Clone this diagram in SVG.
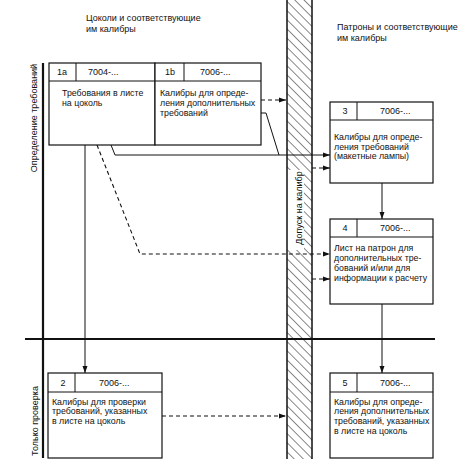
<svg xmlns="http://www.w3.org/2000/svg" width="472" height="474" viewBox="0 0 472 474">
<style>
text{font-family:"Liberation Sans",Arial,sans-serif;font-size:9px;fill:#111}
.b{font-size:8.8px}
.box{fill:#fff;stroke:#111;stroke-width:1.2}
.ln{fill:none;stroke:#111;stroke-width:1}
.sol{fill:none;stroke:#111;stroke-width:1}
.dash{fill:none;stroke:#111;stroke-width:1.1;stroke-dasharray:4,3}
.thick{stroke:#111;stroke-width:2.2;fill:none}
.c{text-anchor:middle}
</style>
<defs>
<marker id="ah" markerWidth="7" markerHeight="6" refX="7" refY="3" orient="auto" markerUnits="userSpaceOnUse">
<path d="M0,0.5 L7,3 L0,5.5 z" fill="#111"/>
</marker>
<pattern id="hatch" patternUnits="userSpaceOnUse" width="6.5" height="6.5" patternTransform="rotate(-45)">
<line x1="0" y1="0" x2="0" y2="6.5" stroke="#111" stroke-width="1"/>
</pattern>
</defs>
<rect width="472" height="474" fill="#fff"/>

<g id="headers">
<text x="86" y="21">Цоколи и соответствующие</text>
<text x="86" y="32">им калибры</text>
<text x="337" y="30">Патроны и соответствующие</text>
<text x="337" y="41">им калибры</text>
</g>

<g id="band">
<rect x="287" y="0" width="25" height="459" fill="url(#hatch)"/>
<rect x="287" y="170" width="17" height="80" fill="#fff"/>
<line x1="287" y1="0" x2="287" y2="459" stroke="#111" stroke-width="1.5"/>
<line x1="312" y1="0" x2="312" y2="459" stroke="#111" stroke-width="1.5"/>
<text transform="translate(299,208) rotate(-90)" class="c" dy="3">Допуск на калибр</text>
</g>

<g id="axes">
<line class="thick" x1="43" y1="63" x2="43" y2="458"/>
<line class="thick" x1="25" y1="339" x2="435" y2="339"/>
<text transform="translate(34,118) rotate(-90)" class="c" dy="3">Определение требований</text>
<text transform="translate(35,421) rotate(-90)" class="c" dy="3">Только проверка</text>
</g>

<g id="connectors">
<line class="dash" x1="261" y1="100" x2="286" y2="100" marker-end="url(#ah)"/>
<polyline class="sol" points="261,113 266,113 279,155"/>
<polyline class="sol" points="111,145 115,155 330,155" marker-end="url(#ah)"/>
<line class="dash" x1="312" y1="168" x2="330" y2="168" marker-end="url(#ah)"/>
<polyline class="dash" points="97,145 140,254 330,254" marker-end="url(#ah)"/>
<line class="dash" x1="312" y1="279" x2="330" y2="279" marker-end="url(#ah)"/>
<line class="sol" x1="85" y1="145" x2="85" y2="373" marker-end="url(#ah)"/>
<line class="sol" x1="382" y1="183" x2="382" y2="219" marker-end="url(#ah)"/>
<line class="sol" x1="382" y1="304" x2="382" y2="373" marker-end="url(#ah)"/>
<line class="dash" x1="162" y1="416" x2="286" y2="416" marker-end="url(#ah)"/>
</g>

<g id="node-1a">
<rect class="box" x="49" y="63" width="106" height="82"/>
<line class="ln" x1="49" y1="81" x2="155" y2="81"/>
<line class="ln" x1="76" y1="63" x2="76" y2="81"/>
<text x="62" y="75" class="c">1a</text>
<text x="88" y="75">7004-...</text>
<text class="b" x="62" y="96">Требования в листе</text>
<text class="b" x="62" y="106">на цоколь</text>
</g>

<g id="node-1b">
<rect class="box" x="155" y="63" width="106" height="82"/>
<line class="ln" x1="155" y1="81" x2="261" y2="81"/>
<line class="ln" x1="184" y1="63" x2="184" y2="81"/>
<text x="170" y="75" class="c">1b</text>
<text x="200" y="75">7006-...</text>
<text class="b" x="160" y="96">Калибры для опреде-</text>
<text class="b" x="160" y="106">ления дополнительных</text>
<text class="b" x="160" y="116">требований</text>
</g>

<g id="node-3">
<rect class="box" x="330" y="102" width="103" height="81"/>
<line class="ln" x1="330" y1="120" x2="433" y2="120"/>
<line class="ln" x1="357" y1="102" x2="357" y2="120"/>
<text x="345" y="114" class="c">3</text>
<text x="380" y="114">7006-...</text>
<text class="b" x="334" y="140">Калибры для опреде-</text>
<text class="b" x="334" y="150">ления требований</text>
<text class="b" x="334" y="159">(макетные лампы)</text>
</g>

<g id="node-4">
<rect class="box" x="330" y="219" width="103" height="85"/>
<line class="ln" x1="330" y1="237" x2="433" y2="237"/>
<line class="ln" x1="357" y1="219" x2="357" y2="237"/>
<text x="345" y="231" class="c">4</text>
<text x="380" y="231">7006-...</text>
<text class="b" x="334" y="251">Лист на патрон для</text>
<text class="b" x="334" y="261">дополнительных тре-</text>
<text class="b" x="334" y="271">бований и/или для</text>
<text class="b" x="334" y="281">информации к расчету</text>
</g>

<g id="node-2">
<rect class="box" x="48" y="373" width="114" height="85"/>
<line class="ln" x1="48" y1="392" x2="162" y2="392"/>
<line class="ln" x1="75" y1="373" x2="75" y2="392"/>
<text x="63" y="386" class="c">2</text>
<text x="99" y="386">7006-...</text>
<text class="b" x="52" y="405">Калибры для проверки</text>
<text class="b" x="52" y="414">требований, указанных</text>
<text class="b" x="52" y="424">в листе на цоколь</text>
</g>

<g id="node-5">
<rect class="box" x="330" y="373" width="103" height="85"/>
<line class="ln" x1="330" y1="392" x2="433" y2="392"/>
<line class="ln" x1="357" y1="373" x2="357" y2="392"/>
<text x="345" y="386" class="c">5</text>
<text x="380" y="386">7006-...</text>
<text class="b" x="334" y="405">Калибры для опреде-</text>
<text class="b" x="334" y="414">ления дополнительных</text>
<text class="b" x="334" y="424">требований, указанных</text>
<text class="b" x="334" y="434">в листе на цоколь</text>
</g>
</svg>
